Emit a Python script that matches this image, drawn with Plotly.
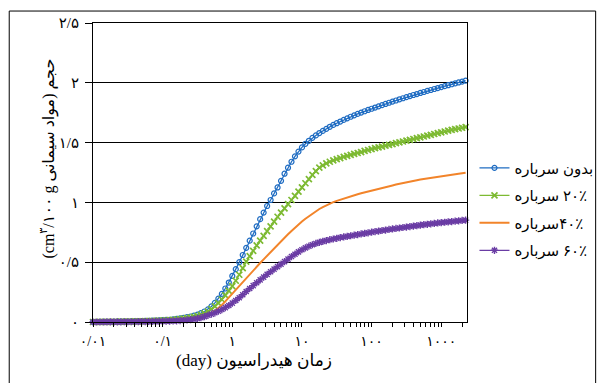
import numpy as np
import plotly.graph_objects as go

# Hydration time samples (days), 0.05-decade spacing from 0.01 d
days = 10 ** (np.arange(108) * 0.05 - 2.0)

# Cumulative hydrate volume (cm3 / 100 g cementitious material)
no_slag = [
    0.000, 0.000, 0.001, 0.001, 0.001, 0.002, 0.002, 0.003, 0.003, 0.004,
    0.004, 0.005, 0.006, 0.007, 0.008, 0.009, 0.010, 0.011, 0.012, 0.014,
    0.015, 0.017, 0.019, 0.022, 0.026, 0.030, 0.035, 0.040, 0.046, 0.053,
    0.062, 0.074, 0.088, 0.106, 0.130, 0.160, 0.195, 0.235, 0.280, 0.330,
    0.385, 0.442, 0.500, 0.560, 0.620, 0.680, 0.740, 0.800, 0.860, 0.915,
    0.970, 1.020, 1.075, 1.125, 1.180, 1.240, 1.290, 1.340, 1.385, 1.425,
    1.460, 1.490, 1.515, 1.540, 1.560, 1.580, 1.598, 1.615, 1.632, 1.648,
    1.662, 1.676, 1.690, 1.703, 1.716, 1.728, 1.740, 1.751, 1.762, 1.773,
    1.783, 1.793, 1.803, 1.813, 1.823, 1.833, 1.843, 1.852, 1.862, 1.871,
    1.880, 1.889, 1.898, 1.906, 1.915, 1.923, 1.932, 1.940, 1.948, 1.956,
    1.964, 1.972, 1.980, 1.988, 1.995, 2.003, 2.010, 2.018,
]
slag_20 = [
    0.000, 0.000, 0.001, 0.001, 0.001, 0.001, 0.002, 0.002, 0.003, 0.003,
    0.003, 0.004, 0.005, 0.005, 0.006, 0.007, 0.008, 0.009, 0.010, 0.011,
    0.012, 0.014, 0.016, 0.018, 0.021, 0.024, 0.028, 0.032, 0.037, 0.043,
    0.050, 0.060, 0.072, 0.088, 0.107, 0.130, 0.158, 0.188, 0.222, 0.260,
    0.300, 0.345, 0.395, 0.450, 0.505, 0.550, 0.595, 0.640, 0.680, 0.720,
    0.760, 0.800, 0.840, 0.880, 0.915, 0.950, 0.985, 1.020, 1.055, 1.090,
    1.125, 1.160, 1.195, 1.230, 1.262, 1.290, 1.310, 1.327, 1.340, 1.352,
    1.362, 1.371, 1.380, 1.389, 1.397, 1.405, 1.413, 1.421, 1.430, 1.438,
    1.446, 1.453, 1.460, 1.467, 1.474, 1.481, 1.488, 1.495, 1.502, 1.509,
    1.516, 1.523, 1.530, 1.537, 1.544, 1.551, 1.558, 1.565, 1.572, 1.579,
    1.586, 1.593, 1.600, 1.606, 1.612, 1.618, 1.624, 1.630,
]
slag_40 = [
    0.000, 0.000, 0.000, 0.001, 0.001, 0.001, 0.001, 0.002, 0.002, 0.002,
    0.003, 0.003, 0.004, 0.004, 0.005, 0.005, 0.006, 0.006, 0.007, 0.008,
    0.009, 0.010, 0.011, 0.013, 0.015, 0.017, 0.020, 0.023, 0.027, 0.031,
    0.036, 0.043, 0.051, 0.062, 0.075, 0.092, 0.115, 0.142, 0.172, 0.205,
    0.238, 0.270, 0.302, 0.334, 0.366, 0.398, 0.430, 0.462, 0.493, 0.524,
    0.555, 0.585, 0.615, 0.645, 0.675, 0.705, 0.733, 0.761, 0.789, 0.815,
    0.840, 0.863, 0.885, 0.906, 0.926, 0.945, 0.961, 0.976, 0.990, 1.002,
    1.013, 1.023, 1.033, 1.042, 1.051, 1.060, 1.068, 1.076, 1.084, 1.092,
    1.100, 1.107, 1.114, 1.121, 1.128, 1.135, 1.142, 1.149, 1.156, 1.162,
    1.168, 1.174, 1.180, 1.186, 1.191, 1.196, 1.201, 1.206, 1.211, 1.216,
    1.220, 1.224, 1.228, 1.232, 1.236, 1.240, 1.244, 1.248,
]
slag_60 = [
    0.000, 0.000, 0.000, 0.000, 0.001, 0.001, 0.001, 0.001, 0.001, 0.002,
    0.002, 0.002, 0.002, 0.003, 0.003, 0.003, 0.004, 0.004, 0.005, 0.005,
    0.006, 0.007, 0.008, 0.009, 0.010, 0.012, 0.014, 0.017, 0.020, 0.024,
    0.029, 0.036, 0.045, 0.056, 0.066, 0.077, 0.090, 0.104, 0.120, 0.138,
    0.158, 0.180, 0.203, 0.228, 0.255, 0.280, 0.304, 0.328, 0.352, 0.375,
    0.398, 0.420, 0.442, 0.463, 0.484, 0.505, 0.526, 0.547, 0.567, 0.586,
    0.604, 0.620, 0.634, 0.646, 0.657, 0.666, 0.674, 0.681, 0.688, 0.694,
    0.700, 0.706, 0.711, 0.716, 0.721, 0.726, 0.731, 0.736, 0.741, 0.746,
    0.751, 0.756, 0.760, 0.765, 0.769, 0.774, 0.778, 0.782, 0.786, 0.790,
    0.794, 0.798, 0.802, 0.806, 0.810, 0.814, 0.817, 0.821, 0.824, 0.828,
    0.831, 0.834, 0.837, 0.840, 0.843, 0.846, 0.849, 0.852,
]

series_names = ["بدون سرباره", "۲۰٪ سرباره", "۴۰٪سرباره", "۶۰٪ سرباره"]

x_tick_vals = [0.01, 0.1, 1, 10, 100, 1000]
x_tick_text = ["۰/۰۱", "۰/۱", "۱", "۱۰", "۱۰۰", "۱۰۰۰"]
y_tick_vals = [0, 0.5, 1, 1.5, 2, 2.5]
y_tick_text = ["۰", "۰/۵", "۱", "۱/۵", "۲", "۲/۵"]

RLE, PDF = "\u202b", "\u202c"   # right-to-left embedding for Persian labels
FONT = "Liberation Serif, DejaVu Sans, serif"

# minor ticks at 2..9 of each decade, labels only at decades
minor_vals, minor_text = [], []
for base, label in zip(x_tick_vals, x_tick_text):
    for k in range(1, 10):
        v = base * k
        if v <= 2300:
            minor_vals.append(v)
            minor_text.append(label if k == 1 else "")

fig = go.Figure()

styles = [
    dict(color="#1F6CC2", mode="lines+markers",
         marker=dict(symbol="circle-open", size=5, line=dict(width=1.2, color="#1F6CC2"))),
    dict(color="#7DBA32", mode="lines+markers",
         marker=dict(symbol="x-thin-open", size=6, line=dict(width=1.7, color="#7DBA32"))),
    dict(color="#F2842A", mode="lines", marker=None),
    dict(color="#6A3CA4", mode="lines+markers",
         marker=dict(symbol="asterisk-open", size=6, line=dict(width=1.4, color="#6A3CA4"))),
]

for name, vals, st in zip(series_names, [no_slag, slag_20, slag_40, slag_60], styles):
    kw = dict(
        x=days, y=vals, name=RLE + name + PDF, mode=st["mode"],
        line=dict(color=st["color"], width=2 if st["mode"] == "lines" else 1.3),
        legendgroup=name, cliponaxis=False,
    )
    if st["marker"] is not None:
        kw["marker"] = st["marker"]
    fig.add_trace(go.Scatter(**kw))

fig.update_layout(
    width=610, height=383, autosize=False,
    margin=dict(l=93, r=133, t=23, b=61),
    paper_bgcolor="white", plot_bgcolor="white",
    font=dict(family=FONT, color="black", size=14),
    legend=dict(
        x=1.02, y=0.57, xanchor="left", yanchor="top",
        font=dict(size=15, family=FONT), tracegroupgap=5, itemwidth=30,
        bgcolor="rgba(0,0,0,0)",
    ),
    showlegend=True,
)

fig.update_xaxes(
    type="log", range=[-2, 3.37],
    showline=True, linecolor="black", linewidth=1, mirror=True,
    showgrid=False, zeroline=False,
    tickmode="array", tickvals=minor_vals, ticktext=minor_text, tickangle=0,
    ticks="outside", ticklen=4, tickcolor="black", tickwidth=1,
    tickfont=dict(size=14, family=FONT), ticklabelstandoff=2,
)
fig.update_yaxes(
    range=[0, 2.5],
    showline=True, linecolor="black", linewidth=1, mirror=True,
    showgrid=True, gridcolor="black", gridwidth=1, zeroline=False,
    tickmode="array", tickvals=y_tick_vals, ticktext=y_tick_text,
    ticks="outside", ticklen=7, tickcolor="black", tickwidth=1,
    tickfont=dict(size=15, family=FONT), ticklabelstandoff=3,
)

# axis titles
fig.add_annotation(
    text=RLE + "حجم (مواد سیمانی cm<sup>۳</sup>/۱۰۰ g)" + PDF,
    xref="paper", yref="paper", x=-0.154, y=0.548, textangle=-90,
    showarrow=False, font=dict(size=16, family=FONT),
)
fig.add_annotation(
    text=RLE + "زمان هیدراسیون (day)" + PDF,
    xref="paper", yref="paper", x=0.43, y=-0.167,
    showarrow=False, font=dict(size=17, family=FONT),
)

# outer frame around the whole chart
fig.add_shape(
    type="rect", xref="paper", yref="paper",
    x0=-0.224, x1=1.344, y0=-0.25, y1=1.040,
    line=dict(color="black", width=1), layer="below",
)

fig.write_html("out.html")
